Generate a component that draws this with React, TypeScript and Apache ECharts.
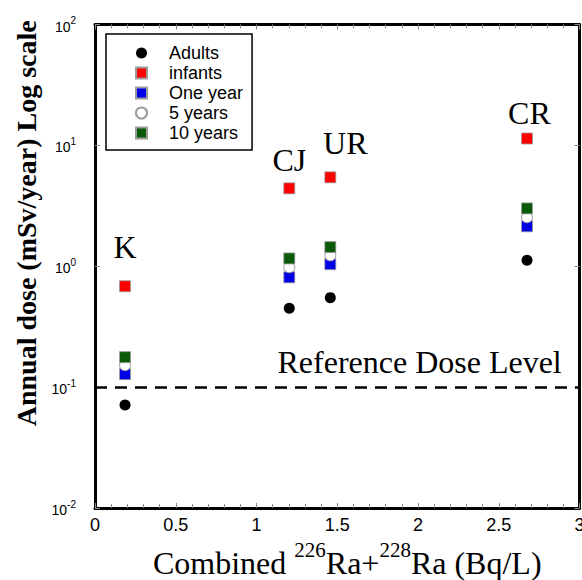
import React, { useEffect, useRef } from 'react';
import * as echarts from 'echarts';

// ---- data ----
const seriesNames = ['Adults', 'infants', 'One year', '5 years', '10 years'];
const siteNames = ['K', 'CJ', 'UR', 'CR'];
const siteRa = [0.186, 1.203, 1.457, 2.675]; // combined 226Ra+228Ra (Bq/L)
const adults = [0.071, 0.45, 0.55, 1.12];
const infants = [0.683, 4.41, 5.44, 11.4];
const oneYear = [0.128, 0.81, 1.04, 2.14];
const fiveYears = [0.152, 0.98, 1.23, 2.54];
const tenYears = [0.177, 1.16, 1.44, 3.01];
// where the site names are written (data coordinates)
const siteLabelRa = [0.186, 1.203, 1.55, 2.69];
const siteLabelDose = [1.44, 7.5, 10.4, 18.7];
const REF_DOSE = 0.1;
const refLabel = 'Reference Dose Level';
const refLabelRa = 2.01;
const refLabelDose = 0.162;
const xMin = 0;
const xMax = 3;
const xInterval = 0.5;
const yMin = 0.01;
const yMax = 100;

const SERIF = "'Liberation Serif', 'Times New Roman', serif";
const SANS = "'Liberation Sans', Arial, sans-serif";

const pts = (ys: number[]) => siteRa.map((x, i) => [x, ys[i]]);

export default function App() {
  const ref = useRef<HTMLDivElement>(null);
  useEffect(() => {
    if (!ref.current) return;
    const chart = echarts.init(ref.current, undefined, { renderer: 'svg' });
    const sq = (color: string) => ({
      color,
      borderColor: '#9a9a9a',
      borderWidth: 0.8,
      opacity: 1,
    });
    const tickStyle = { color: '#8a8a8a', width: 1 };
    const axisLine = { show: true, onZero: false, lineStyle: { color: '#000', width: 3 } };
    const option: any = {
      animation: false,
      backgroundColor: '#fff',
      grid: {
        left: 95,
        right: 2.5,
        top: 24.5,
        bottom: 72,
        containLabel: false,
        outerBoundsMode: 'none',
      },
      legend: {
        data: seriesNames,
        orient: 'vertical',
        left: 106,
        top: 34,
        borderColor: '#000',
        borderWidth: 1.5,
        padding: [9, 9, 7, 29],
        itemWidth: 11,
        itemHeight: 11,
        itemGap: 0,
        selectedMode: false,
        textStyle: {
          fontFamily: SANS,
          fontSize: 18,
          lineHeight: 20,
          color: '#000',
          padding: [0, 0, 0, 17],
        },
      },
      xAxis: [
        {
          type: 'value',
          min: xMin,
          max: xMax,
          interval: xInterval,
          position: 'bottom',
          axisLine,
          splitLine: { show: false },
          axisTick: { show: true, inside: true, length: 5, lineStyle: tickStyle },
          minorTick: { show: true, splitNumber: 5, length: 4, lineStyle: tickStyle },
          axisLabel: { fontFamily: SANS, fontSize: 18, color: '#000', margin: 8 },
          name: '{m|Combined }{s|226}{m|Ra+}{s|228}{m|Ra (Bq/L)}',
          nameLocation: 'middle',
          nameGap: 31,
          nameTextStyle: {
            color: '#000',
            fontFamily: SERIF,
            padding: [0, 0, 0, 20],
            rich: {
              m: { fontFamily: SERIF, fontSize: 32, color: '#000', verticalAlign: 'bottom', lineHeight: 40 },
              s: { fontFamily: SERIF, fontSize: 21, color: '#000', verticalAlign: 'top', lineHeight: 21 },
            },
          },
        },
        {
          type: 'value',
          min: xMin,
          max: xMax,
          interval: xInterval,
          position: 'top',
          axisLine,
          splitLine: { show: false },
          axisTick: { show: true, inside: true, length: 5, lineStyle: tickStyle },
          minorTick: { show: true, splitNumber: 5, length: 4, lineStyle: tickStyle },
          axisLabel: { show: false },
        },
      ],
      yAxis: [
        {
          type: 'log',
          logBase: 10,
          min: yMin,
          max: yMax,
          position: 'left',
          axisLine,
          splitLine: { show: false },
          axisTick: { show: true, inside: true, length: 5, lineStyle: tickStyle },
          minorTick: { show: false },
          axisLabel: {
            margin: 19,
            formatter: (v: number) => `{b|10}{s|${Math.round(Math.log10(v))}}`,
            rich: {
              b: { fontFamily: SANS, fontSize: 14, color: '#000', verticalAlign: 'bottom', lineHeight: 18 },
              s: { fontFamily: SANS, fontSize: 10, color: '#000', verticalAlign: 'top', lineHeight: 10 },
            },
          },
          name: 'Annual dose (mSv/year) Log scale',
          nameLocation: 'middle',
          nameGap: 51,
          nameTextStyle: {
            fontFamily: SERIF,
            fontWeight: 'bold',
            fontSize: 28,
            color: '#000',
            padding: [0, 0, 0, 86],
          },
        },
        {
          type: 'log',
          logBase: 10,
          min: yMin,
          max: yMax,
          position: 'right',
          axisLine,
          splitLine: { show: false },
          axisTick: { show: true, inside: true, length: 5, lineStyle: tickStyle },
          axisLabel: { show: false },
        },
      ],
      series: [
        {
          name: 'Adults',
          type: 'scatter',
          symbol: 'circle',
          symbolSize: 11,
          itemStyle: { color: '#000', opacity: 1 },
          data: pts(adults),
          markLine: {
            silent: true,
            symbol: 'none',
            label: { show: false },
            lineStyle: { color: '#000', width: 2.5, type: [12, 8] },
            data: [{ yAxis: REF_DOSE }],
          },
        },
        {
          name: 'infants',
          type: 'scatter',
          symbol: 'rect',
          symbolSize: 11,
          itemStyle: sq('#ff0000'),
          data: pts(infants),
        },
        {
          name: 'One year',
          type: 'scatter',
          symbol: 'rect',
          symbolSize: 11,
          itemStyle: sq('#0000e6'),
          data: pts(oneYear),
        },
        {
          name: '5 years',
          type: 'scatter',
          symbol: 'circle',
          symbolSize: 11,
          itemStyle: { color: '#fff', borderColor: '#9a9a9a', borderWidth: 1, opacity: 1 },
          data: pts(fiveYears),
        },
        {
          name: '10 years',
          type: 'scatter',
          symbol: 'rect',
          symbolSize: 11,
          itemStyle: sq('#0a5a0a'),
          data: pts(tenYears),
        },
        {
          name: 'annotations',
          type: 'scatter',
          silent: true,
          symbolSize: 1,
          itemStyle: { color: 'rgba(0,0,0,0)' },
          label: {
            show: true,
            position: [0.5, 0.5],
            align: 'center',
            verticalAlign: 'middle',
            formatter: '{b}',
            fontFamily: SERIF,
            fontSize: 32,
            color: '#000',
            textBorderWidth: 0,
            opacity: 1,
          },
          data: [
            ...siteNames.map((n, i) => ({ name: n, value: [siteLabelRa[i], siteLabelDose[i]] })),
            { name: refLabel, value: [refLabelRa, refLabelDose] },
          ],
          z: 5,
        },
      ],
    };
    chart.setOption(option);
    return () => chart.dispose();
  }, []);
  return (
    <div
      ref={ref}
      style={{ position: 'absolute', left: 0, top: 0, width: 582, height: 580 }}
    />
  );
}
